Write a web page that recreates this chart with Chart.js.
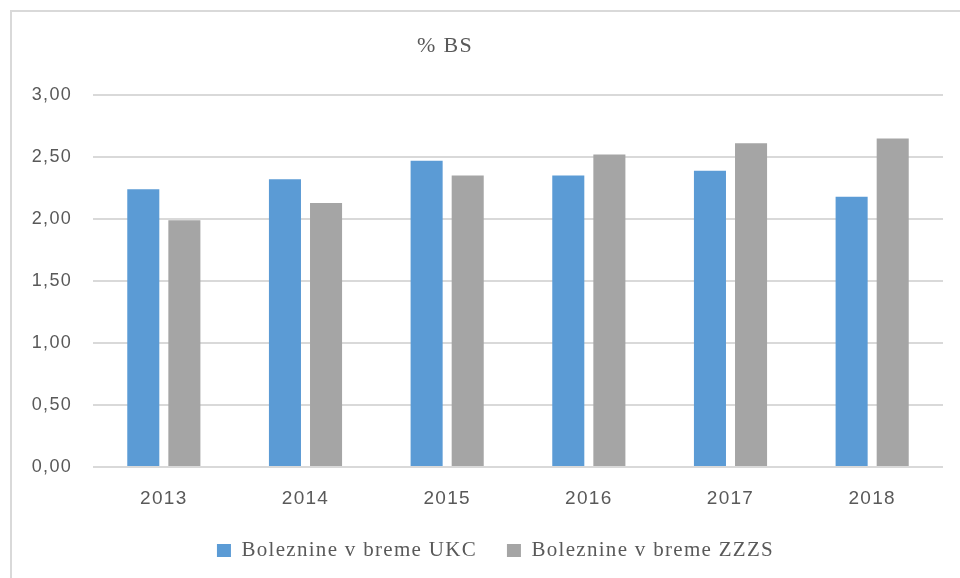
<!DOCTYPE html>
<html>
<head>
<meta charset="utf-8">
<script src="https://cdn.jsdelivr.net/npm/chart.js@4"></script>
<style>
  html, body { margin: 0; padding: 0; background: #fff; }
  #wrap { position: relative; width: 960px; height: 578px; overflow: hidden; }
  #frame { position: absolute; left: 10px; top: 10px; width: 960px; height: 578px;
           border-left: 2px solid #d9d9d9; border-top: 2px solid #d9d9d9; }
  canvas { position: absolute; left: 0; top: 0; }
</style>
</head>
<body>
<div id="wrap">
  <div id="frame"></div>
  <canvas id="chart" width="960" height="578"></canvas>
</div>
<script>
    // data
    const years = ["2013", "2014", "2015", "2016", "2017", "2018"];
    const ukc = [2.24, 2.32, 2.47, 2.35, 2.39, 2.18];
    const zzzs = [1.99, 2.13, 2.35, 2.52, 2.61, 2.65];
    const seriesNames = ["Boleznine v breme UKC", "Boleznine v breme ZZZS"];
    const chartTitle = "% BS";

    // the text in the picture is a bit stretched, so space the letters
    const spacing = {
        id: "spacing",
        beforeUpdate: function (chart) { chart.ctx.letterSpacing = "1.3px"; },
        beforeDraw: function (chart) { chart.ctx.letterSpacing = "1.3px"; },
        // legend is centred a little right of the canvas middle
        afterLayout: function (chart) {
            chart.legend.left += 24;
            chart.legend.right += 24;
        }
    };

    // title sits left of centre, so draw it by hand
    const titleText = {
        id: "titleText",
        afterDraw: function (chart) {
            const ctx = chart.ctx;
            ctx.save();
            ctx.letterSpacing = "1.3px";
            ctx.font = "22px 'Liberation Serif'";
            ctx.fillStyle = "#595959";
            ctx.textAlign = "center";
            ctx.textBaseline = "alphabetic";
            ctx.fillText(chartTitle, 445, 52);
            ctx.restore();
        }
    };

    new Chart("chart", {
        type: "bar",
        data: {
            labels: years,
            datasets: [{
                label: seriesNames[0],
                data: ukc,
                backgroundColor: "#5B9BD5"
            }, {
                label: seriesNames[1],
                data: zzzs,
                backgroundColor: "#A5A5A5"
            }]
        },
        options: {
            responsive: false,
            animation: false,
            categoryPercentage: 0.58,
            barPercentage: 0.78,
            layout: {
                padding: { left: 0, right: 17, top: 95, bottom: 7 }
            },
            plugins: {
                legend: {
                    position: "bottom",
                    labels: {
                        boxWidth: 14,
                        boxHeight: 13,
                        padding: 30,
                        color: "#595959",
                        font: { family: "'Liberation Serif'", size: 21 }
                    }
                },
                tooltip: { enabled: false }
            },
            scales: {
                x: {
                    grid: { display: false },
                    border: { display: false },
                    ticks: {
                        padding: 12,
                        color: "#595959",
                        font: { family: "'Liberation Sans'", size: 19 }
                    },
                    afterFit: function (s) { s.height = 43; }
                },
                y: {
                    min: 0,
                    max: 3,
                    grid: { color: "#d9d9d9", lineWidth: 2, drawTicks: false },
                    border: { display: false },
                    ticks: {
                        stepSize: 0.5,
                        padding: 21,
                        color: "#595959",
                        font: { family: "'Liberation Sans'", size: 18 },
                        callback: function (v) { return v.toFixed(2).replace(".", ","); }
                    },
                    afterFit: function (s) { s.width = 93; }
                }
            }
        },
        plugins: [spacing, titleText]
    });
</script>
</body>
</html>
